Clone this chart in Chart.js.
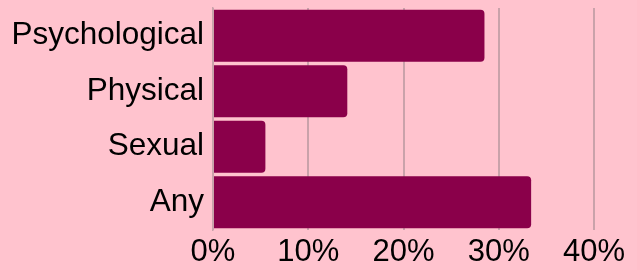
<!DOCTYPE html>
<html lang="en">
<head>
    <meta charset="UTF-8">
    <title>Violence types</title>
    <script src="https://cdn.jsdelivr.net/npm/chart.js"></script>
    <style>
        html, body {
            margin: 0;
            padding: 0;
            background: #FFC3CE;
        }
        .chart-box {
            width: 637px;
            height: 270px;
            position: relative;
        }
    </style>
</head>
<body>
    <div class="chart-box">
        <canvas id="violenceChart"></canvas>
    </div>

    <script>
        const categories = ['Psychological', 'Physical', 'Sexual', 'Any'];
        const shares = [28.5, 14.1, 5.5, 33.4];
        const tickValues = [0, 10, 20, 30, 40];

        const ctx = document.getElementById('violenceChart').getContext('2d');

        new Chart(ctx, {
            type: 'bar',
            data: {
                labels: categories,
                datasets: [{
                    data: shares,
                    backgroundColor: '#8A004A',
                    borderRadius: { topRight: 4, bottomRight: 4 },
                    borderSkipped: 'start',
                    categoryPercentage: 1,
                    barPercentage: 0.94
                }]
            },
            options: {
                indexAxis: 'y',
                responsive: true,
                maintainAspectRatio: false,
                animation: false,
                layout: { padding: { top: 8, right: 43, bottom: 0, left: 0 } },
                plugins: {
                    legend: { display: false },
                    tooltip: { enabled: false }
                },
                scales: {
                    x: {
                        min: 0,
                        max: 40,
                        afterBuildTicks: (scale) => {
                            scale.ticks = tickValues.map(v => ({ value: v }));
                        },
                        afterFit: (scale) => {
                            scale.height = 40;
                            scale.paddingLeft = 0;
                            scale.paddingRight = 0;
                        },
                        grid: {
                            color: '#C9A2AA',
                            lineWidth: 2,
                            drawTicks: false
                        },
                        border: { display: false },
                        ticks: {
                            color: '#000',
                            padding: 4,
                            maxRotation: 0,
                            font: { family: 'Liberation Sans, Arial, sans-serif', size: 31 },
                            callback: (v) => v + '%'
                        }
                    },
                    y: {
                        afterFit: (scale) => {
                            scale.width = 213;
                            scale.paddingTop = 0;
                            scale.paddingBottom = 0;
                        },
                        grid: { display: false, drawTicks: false },
                        border: { display: true, color: '#C9A2AA', width: 1.5 },
                        ticks: {
                            color: '#000',
                            padding: 9,
                            font: { family: 'Liberation Sans, Arial, sans-serif', size: 31.5 }
                        }
                    }
                }
            }
        });
    </script>
</body>
</html>
